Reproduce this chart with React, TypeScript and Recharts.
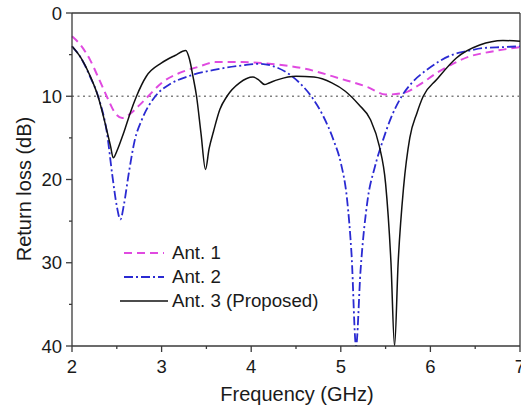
import {
  LineChart,
  Line,
  XAxis,
  YAxis,
  ReferenceLine,
  Legend,
} from 'recharts'

// Frequency (GHz) / return loss (dB)
const ant1Freq = [2.0, 2.1, 2.2, 2.3, 2.4, 2.48, 2.56, 2.65, 2.75, 2.85, 3.0, 3.2, 3.4, 3.6, 3.9, 4.2, 4.6, 5.0, 5.3, 5.5, 5.7, 5.88, 6.07, 6.25, 6.44, 6.6, 6.81, 7.0]
const ant1Loss = [2.8, 3.9, 5.6, 7.9, 10.3, 12.0, 12.6, 12.1, 11.1, 10.0, 8.4, 7.2, 6.5, 5.9, 5.9, 6.1, 6.7, 7.9, 8.9, 9.8, 9.6, 8.6, 7.2, 6.1, 5.2, 4.8, 4.4, 4.1]

const ant2Freq = [2.0, 2.1, 2.2, 2.3, 2.39, 2.45, 2.5, 2.54, 2.58, 2.63, 2.7, 2.78, 2.93, 3.1, 3.3, 3.6, 3.9, 4.1, 4.25, 4.43, 4.55, 4.67, 4.8, 4.92, 5.0, 5.07, 5.12, 5.17, 5.22, 5.3, 5.38, 5.47, 5.56, 5.68, 5.8, 5.95, 6.1, 6.25, 6.4, 6.6, 6.8, 7.0]
const ant2Loss = [4.0, 5.4, 7.6, 10.3, 14.4, 19.5, 23.2, 24.8, 23.0, 19.5, 15.3, 12.8, 10.0, 8.5, 7.6, 6.8, 6.3, 6.1, 6.4, 7.4, 8.5, 10.0, 12.3, 15.3, 18.0, 22.4, 29.0, 40.0, 31.0, 22.4, 18.5, 15.3, 12.6, 10.0, 8.3, 6.9, 5.8, 5.0, 4.6, 4.2, 4.1, 4.0]

const ant3Freq = [2.0, 2.1, 2.2, 2.29, 2.38, 2.43, 2.46, 2.5, 2.55, 2.58, 2.65, 2.72, 2.83, 3.0, 3.15, 3.27, 3.31, 3.35, 3.39, 3.44, 3.49, 3.53, 3.58, 3.65, 3.73, 3.87, 4.02, 4.08, 4.15, 4.2, 4.3, 4.5, 4.7, 4.9, 5.05, 5.2, 5.33, 5.43, 5.5, 5.56, 5.6, 5.64, 5.7, 5.77, 5.85, 5.92, 6.07, 6.29, 6.55, 6.81, 7.0]
const ant3Loss = [4.0, 5.4, 7.5, 10.0, 13.7, 16.0, 17.4, 16.6, 15.2, 14.3, 12.0, 10.0, 7.6, 6.0, 5.1, 4.5, 5.5, 7.6, 10.0, 14.5, 18.8, 16.3, 14.2, 11.6, 10.0, 8.4, 7.7, 8.0, 8.6, 8.4, 8.0, 7.6, 7.7, 8.4, 9.4, 11.0, 12.8, 16.0, 20.5, 30.0, 40.0, 30.0, 21.0, 15.0, 12.0, 10.0, 8.0, 5.4, 3.85, 3.3, 3.4]

const seriesNames = ['Ant. 1', 'Ant. 2', 'Ant. 3 (Proposed)']
const xTicks = [2, 2.5, 3, 3.5, 4, 4.5, 5, 5.5, 6, 6.5, 7]
const yTicks = [0, 5, 10, 15, 20, 25, 30, 35, 40]

const FONT = '"Liberation Sans", Arial, sans-serif'
const AXIS = '#3a3a3a'
const INK = '#1a1a1a'

const toPoints = (freq: number[], loss: number[]) =>
  freq.map((f, i) => ({ f, loss: loss[i] }))

const series = [
  { name: seriesNames[0], data: toPoints(ant1Freq, ant1Loss), color: '#e04ae0', dash: '8 5', width: 2 },
  { name: seriesNames[1], data: toPoints(ant2Freq, ant2Loss), color: '#2a2ad2', dash: '9 3 2 3', width: 1.8 },
  { name: seriesNames[2], data: toPoints(ant3Freq, ant3Loss), color: '#111111', dash: undefined, width: 1.5 },
]

function XTick({ x, y, payload }: any) {
  const major = Number.isInteger(payload.value)
  return (
    <g>
      <line x1={x} x2={x} y1={y} y2={y + (major ? 6 : 3)} stroke={AXIS} strokeWidth={1.3} />
      {major && (
        <text x={x} y={y + 27} textAnchor="middle" fontSize={18.5} fontFamily={FONT} fill={INK}>
          {payload.value}
        </text>
      )}
    </g>
  )
}

function YTick({ x, y, payload }: any) {
  const major = payload.value % 10 === 0
  return (
    <g>
      <line x1={x} x2={x - (major ? 6 : 3)} y1={y} y2={y} stroke={AXIS} strokeWidth={1.3} />
      {major && (
        <text x={x - 10} y={y} dy="0.36em" textAnchor="end" fontSize={18.5} fontFamily={FONT} fill={INK}>
          {payload.value}
        </text>
      )}
    </g>
  )
}

function LegendBox() {
  return (
    <div style={{ fontFamily: FONT, fontSize: 18.7, color: INK }}>
      {series.map((s) => (
        <div key={s.name} style={{ display: 'flex', alignItems: 'center', height: 24 }}>
          <svg width={48} height={24}>
            <line
              x1={s.dash ? 4 : 0}
              x2={s.dash ? 44 : 48}
              y1={12}
              y2={12}
              stroke={s.color}
              strokeWidth={s.width}
              strokeDasharray={s.dash}
            />
          </svg>
          <span style={{ marginLeft: 4, lineHeight: '24px' }}>{s.name}</span>
        </div>
      ))}
    </div>
  )
}

export default function App() {
  return (
    <div style={{ position: 'absolute', left: 0, top: 0, background: '#fff' }}>
      <LineChart width={521} height={408} margin={{ top: 13, right: 1, left: 0, bottom: 0 }}>
        <XAxis
          dataKey="f"
          type="number"
          domain={[2, 7]}
          ticks={xTicks}
          interval={0}
          allowDuplicatedCategory={false}
          height={62}
          tickSize={0}
          tickMargin={0}
          tickLine={false}
          tick={<XTick />}
          axisLine={{ stroke: AXIS, strokeWidth: 1.3 }}
          label={{
            content: () => (
              <text x={297} y={401} textAnchor="middle" fontSize={20} fontFamily={FONT} fill={INK}>
                Frequency (GHz)
              </text>
            ),
          }}
        />
        <YAxis
          type="number"
          reversed
          domain={[0, 40]}
          ticks={yTicks}
          interval={0}
          allowDataOverflow
          width={72}
          tickSize={0}
          tickMargin={0}
          tickLine={false}
          tick={<YTick />}
          axisLine={{ stroke: AXIS, strokeWidth: 1.3 }}
          label={{
            content: () => (
              <text
                transform="translate(31,189) rotate(-90)"
                textAnchor="middle"
                fontSize={20}
                fontFamily={FONT}
                fill={INK}
              >
                Return loss (dB)
              </text>
            ),
          }}
        />
        {/* frame on top and right */}
        <ReferenceLine y={0} stroke={AXIS} strokeWidth={1.3} />
        <ReferenceLine x={7} stroke={AXIS} strokeWidth={1.3} />
        {/* -10 dB criterion */}
        <ReferenceLine y={10} stroke="#808080" strokeWidth={1.6} strokeDasharray="2 3.5" />
        {series.map((s) => (
          <Line
            key={s.name}
            data={s.data}
            dataKey="loss"
            name={s.name}
            type="monotone"
            stroke={s.color}
            strokeWidth={s.width}
            strokeDasharray={s.dash}
            dot={false}
            activeDot={false}
            isAnimationActive={false}
          />
        ))}
        <Legend
          layout="horizontal"
          align="center"
          verticalAlign="middle"
          wrapperStyle={{ left: 120, top: 241, width: 220 }}
          content={<LegendBox />}
        />
      </LineChart>
    </div>
  )
}
